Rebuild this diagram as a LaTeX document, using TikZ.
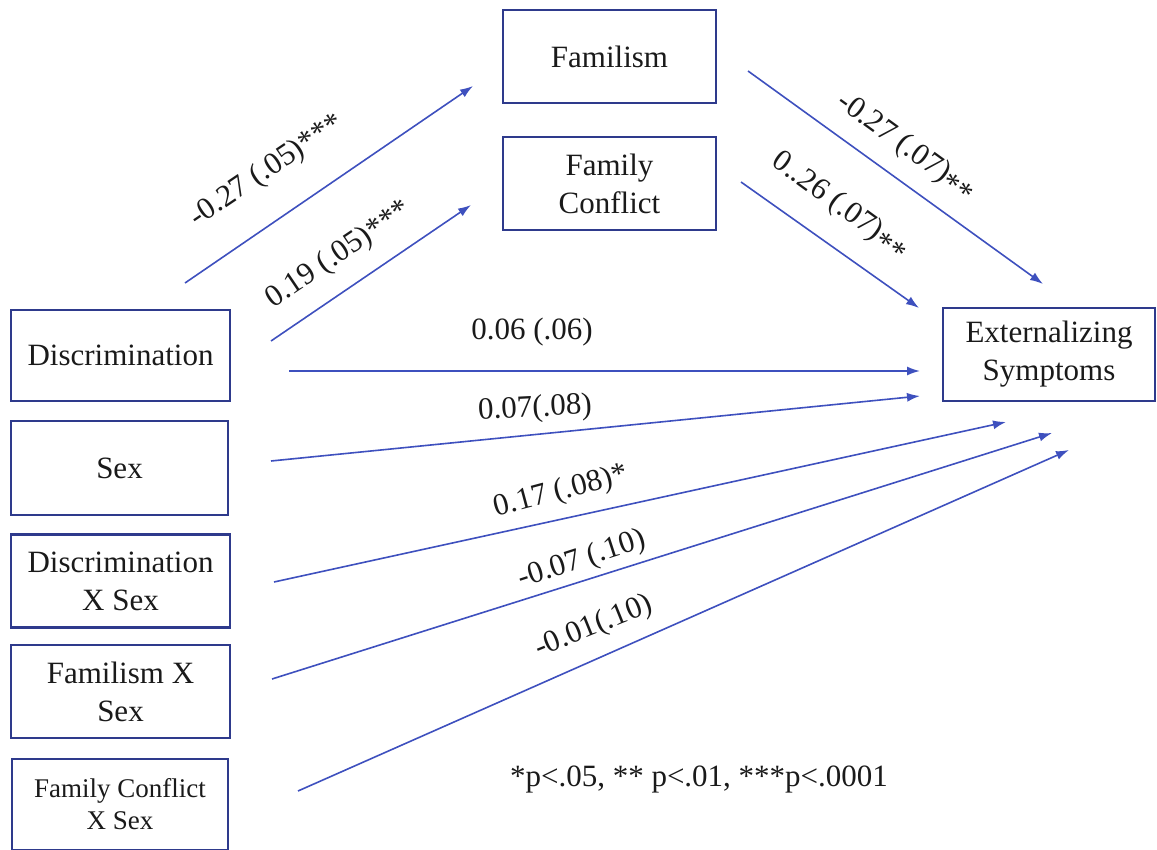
\documentclass[tikz,border=0pt]{standalone}
\usepackage{fontspec}
\setmainfont{Liberation Serif}
\usetikzlibrary{arrows.meta}
\definecolor{boxblue}{HTML}{2E3A8C}
\definecolor{arrblue}{HTML}{3E50BE}
\definecolor{txt}{HTML}{1A1A1A}
\newcommand{\lowast}[1]{\raisebox{-0.45ex}{#1}}
\begin{document}
\begin{tikzpicture}[x=1pt,y=-1pt,
  vbox/.style={draw=boxblue,line width=2.2pt,align=center,inner sep=0pt,text=txt,
    font=\fontsize{31}{38}\selectfont},
  path/.style={draw=arrblue,line width=1.6pt,-{Latex[length=13pt,width=9pt]}},
  lab/.style={text=txt,inner sep=0pt,font=\fontsize{31}{36}\selectfont}]
\useasboundingbox (0,0) rectangle (1157,850);
% boxes
\node[vbox,minimum width=213pt,minimum height=93pt] (fam) at (609.5,56.5) {Familism};
\node[vbox,minimum width=213pt,minimum height=93pt] (fc) at (609.5,183.5) {Family\\Conflict};
\node[vbox,minimum width=219pt,minimum height=91pt] (disc) at (120.5,355.5) {Discrimination};
\node[vbox,minimum width=217pt,minimum height=94pt] (sex) at (119.5,468) {Sex};
\node[vbox,minimum width=219pt,minimum height=93pt] (dxs) at (120.5,581) {Discrimination\\X Sex};
\node[vbox,minimum width=219pt,minimum height=93pt] (fxs) at (120.5,691.5) {Familism X\\Sex};
\node[vbox,minimum width=216pt,minimum height=91pt,font=\fontsize{27}{32}\selectfont] (fcxs) at (120,804.5) {Family Conflict\\X Sex};
\node[vbox,minimum width=212pt,minimum height=93pt] (ext) at (1049,354.5) {Externalizing\\Symptoms};
% connector end points
\coordinate (a1s) at (185,283);  \coordinate (a1e) at (473,86);
\coordinate (a2s) at (271,341);  \coordinate (a2e) at (471,205);
\coordinate (a3s) at (748,71);   \coordinate (a3e) at (1043,284);
\coordinate (a4s) at (741,182);  \coordinate (a4e) at (919,308);
\coordinate (a5s) at (289,371);  \coordinate (a5e) at (920,371);
\coordinate (a6s) at (271,461);  \coordinate (a6e) at (920,396);
\coordinate (a7s) at (274,582);  \coordinate (a7e) at (1006,422);
\coordinate (a8s) at (272,679);  \coordinate (a8e) at (1052,433);
\coordinate (a9s) at (298,791);  \coordinate (a9e) at (1069,450);
% connectors
\draw[path] (a1s) -- (a1e);
\draw[path] (a2s) -- (a2e);
\draw[path] (a3s) -- (a3e);
\draw[path] (a4s) -- (a4e);
\draw[path] (a5s) -- (a5e);
\draw[path] (a6s) -- (a6e);
\draw[path] (a7s) -- (a7e);
\draw[path] (a8s) -- (a8e);
\draw[path] (a9s) -- (a9e);
% labels
\node[lab,rotate=34] (l1) at (267,171) {-0.27 (.05)***};
\node[lab,rotate=34] (l2) at (339,255) {0.19 (.05)***};
\node[lab,rotate=-36] (l3) at (906,147) {-0.27 (.07)\lowast{**}};
\node[lab,rotate=-36] (l4) at (840,206) {0..26 (.07)\lowast{**}};
\node[lab] (l5) at (532,332) {0.06 (.06)};
\node[lab,rotate=3] (l6) at (535,409) {0.07(.08)};
\node[lab,rotate=15] (l7) at (561,492) {0.17 (.08)*};
\node[lab,rotate=18] (l8) at (582,560) {-0.07 (.10)};
\node[lab,rotate=22] (l9) at (594,627) {-0.01(.10)};
\node[lab] (note) at (699,779) {*p<.05, ** p<.01, ***p<.0001};
\end{tikzpicture}
\end{document}
